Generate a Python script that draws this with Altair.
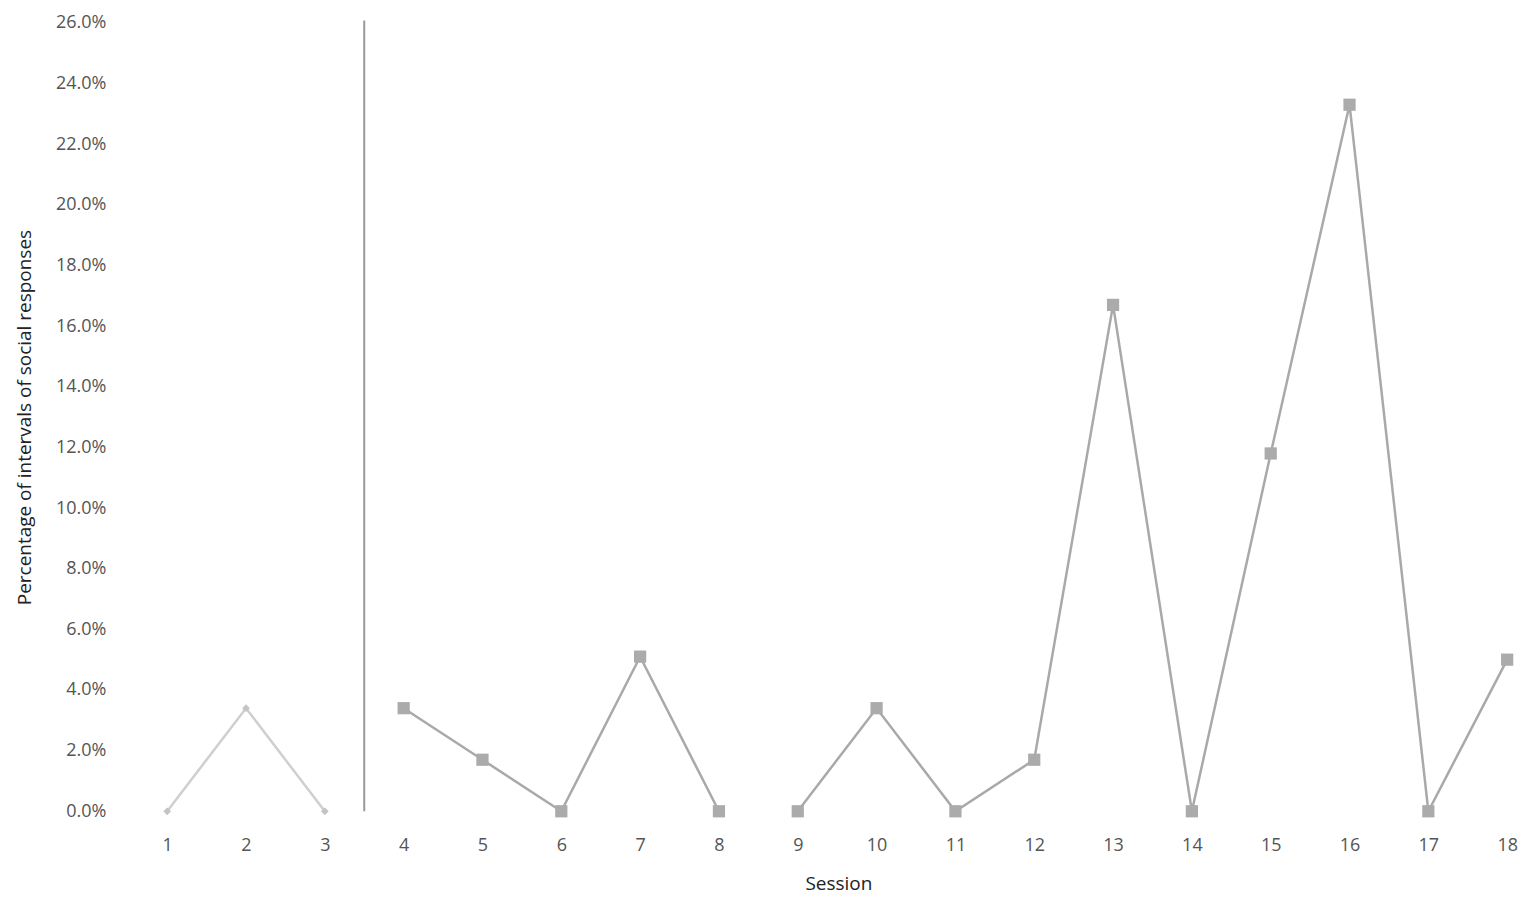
import altair as alt
import pandas as pd

sessions = list(range(1, 19))
values = [0.0, 0.034, 0.0, 0.034, 0.017, 0.0, 0.051, 0.0, 0.0, 0.034, 0.0, 0.017,
          0.167, 0.0, 0.118, 0.233, 0.0, 0.050]
segments = ["A", "A", "A", "B1", "B1", "B1", "B1", "B1", "B2", "B2", "B2", "B2",
            "B2", "B2", "B2", "B2", "B2", "B2"]
y_ticks = [i / 100 for i in range(0, 27, 2)]
phase_line_x = [3.5]

df = pd.DataFrame({"session": sessions, "value": values, "segment": segments})
base_df = df[df.segment == "A"]
treat_df = df[df.segment != "A"]

x_scale = alt.Scale(domain=[0.5, 18.15], nice=False, zero=False)
y_scale = alt.Scale(domain=[0, 0.26], nice=False)

x_axis = alt.Axis(values=sessions, format="d", title="Session", grid=False, domain=False,
                  ticks=False, labelPadding=25, titlePadding=20, labelFontSize=18,
                  titleFontSize=19, labelColor="#555", titleColor="#222",
                  labelFont="Open Sans", titleFont="Open Sans", titleFontWeight="normal",
                  labelFlush=False, titleX=712)
y_axis = alt.Axis(values=y_ticks, format=".1%", title="Percentage of intervals of social responses",
                  grid=False, domain=False, ticks=False, labelPadding=22, titlePadding=21,
                  labelFontSize=18, titleFontSize=19, labelColor="#555", titleColor="#222",
                  labelFont="Open Sans", titleFont="Open Sans", titleFontWeight="normal")

line_base = alt.Chart(base_df).mark_line(color="#cfcfcf", strokeWidth=2.5).encode(
    x=alt.X("session:Q", scale=x_scale, axis=x_axis),
    y=alt.Y("value:Q", scale=y_scale, axis=y_axis),
)
pts_base = alt.Chart(base_df).mark_point(shape="diamond", filled=True, color="#c4c4c4",
                                         size=60, opacity=1).encode(
    x=alt.X("session:Q", scale=x_scale), y=alt.Y("value:Q", scale=y_scale))

line_treat = alt.Chart(treat_df).mark_line(color="#a9a9a9", strokeWidth=2.5).encode(
    x=alt.X("session:Q", scale=x_scale),
    y=alt.Y("value:Q", scale=y_scale),
    detail="segment:N",
)
pts_treat = alt.Chart(treat_df).mark_point(shape="square", filled=True, color="#ababab",
                                           size=150, opacity=1).encode(
    x=alt.X("session:Q", scale=x_scale), y=alt.Y("value:Q", scale=y_scale))

rule_df = pd.DataFrame({"x": phase_line_x, "y0": [0.0], "y1": [0.2608]})
rule = alt.Chart(rule_df).mark_rule(color="#9a9a9a", strokeWidth=2).encode(
    x=alt.X("x:Q", scale=x_scale),
    y=alt.Y("y0:Q", scale=y_scale),
    y2="y1:Q",
)

chart = alt.layer(rule, line_base, pts_base, line_treat, pts_treat).properties(
    width=1394, height=790,
    autosize=alt.AutoSizeParams(type="none"),
    padding={"left": 120, "top": 14, "right": 0, "bottom": 85},
    background="white",
).configure_view(stroke=None)

chart.save("out.html", embed_options={"renderer": "svg", "actions": False})
